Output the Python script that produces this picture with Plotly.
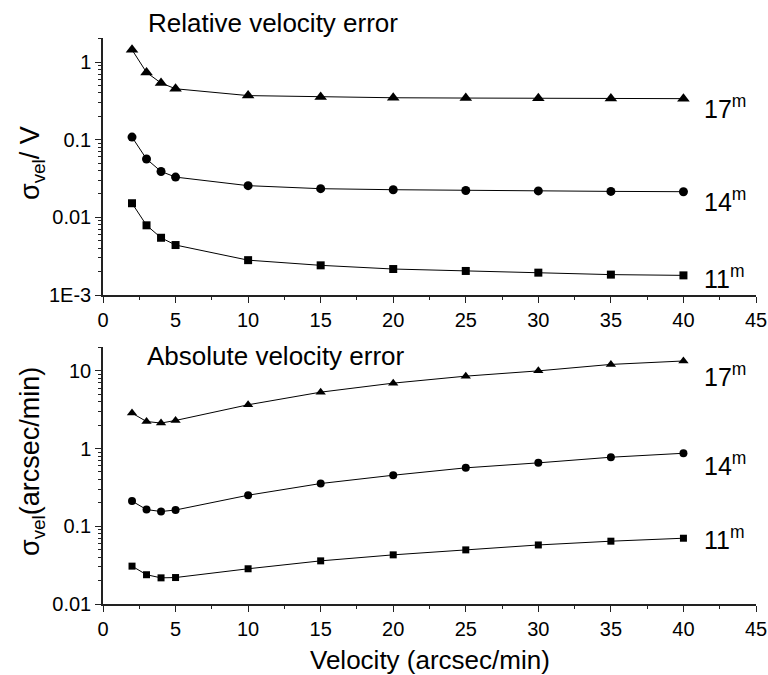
import numpy as np
import plotly.graph_objects as go

velocity = [2, 3, 4, 5, 10, 15, 20, 25, 30, 35, 40]

rel_17 = [1.44, 0.735, 0.537, 0.453, 0.370, 0.355, 0.347, 0.344, 0.341, 0.340, 0.338]
rel_14 = [0.108, 0.0564, 0.039, 0.033, 0.0256, 0.0234, 0.0227, 0.0222, 0.0219, 0.0216, 0.0214]
rel_11 = [0.0152, 0.0079, 0.00546, 0.0044, 0.00281, 0.00241, 0.00216, 0.00204, 0.00194, 0.00183, 0.00179]

abs_17 = [2.86, 2.23, 2.13, 2.30, 3.66, 5.32, 6.95, 8.55, 10.0, 12.1, 13.4]
abs_14 = [0.211, 0.164, 0.155, 0.162, 0.251, 0.355, 0.454, 0.565, 0.655, 0.774, 0.87]
abs_11 = [0.0307, 0.0238, 0.0217, 0.0219, 0.0284, 0.0359, 0.0429, 0.0497, 0.0575, 0.0643, 0.0702]

mag_labels = ["17", "14", "11"]
top_ticks = [0.001, 0.01, 0.1, 1]
top_ticktext = ["1E-3", "0.01", "0.1", "1"]
bot_ticks = [0.01, 0.1, 1, 10]
bot_ticktext = ["0.01", "0.1", "1", "10"]
x_ticks = [0, 5, 10, 15, 20, 25, 30, 35, 40, 45]

FONT = "Liberation Sans, Arial, sans-serif"
W, H = 768, 675
ML, MR, MT, MB = 103, 12, 38, 71
ph = H - MT - MB
top_dom = [(H - MB - 295) / ph, 1.0]
bot_dom = [0.0, (H - MB - 347) / ph]


def log_minor(decades):
    return [m * d for d in decades for m in range(2, 10)]


top_minor = log_minor([0.001, 0.01, 0.1, 1])
bot_minor = log_minor([0.01, 0.1, 1, 10])

fig = go.Figure()

symbols = ["triangle-up", "circle", "square"]
top_sizes = [11, 9, 8]
bot_sizes = [9, 8, 7]

for ser, sym, sz in zip([rel_17, rel_14, rel_11], symbols, top_sizes):
    fig.add_trace(go.Scatter(x=velocity, y=ser, mode="lines+markers",
                             line=dict(color="black", width=1),
                             marker=dict(symbol=sym, size=sz, color="black"),
                             xaxis="x", yaxis="y", showlegend=False))
for ser, sym, sz in zip([abs_17, abs_14, abs_11], symbols, bot_sizes):
    fig.add_trace(go.Scatter(x=velocity, y=ser, mode="lines+markers",
                             line=dict(color="black", width=1),
                             marker=dict(symbol=sym, size=sz, color="black"),
                             xaxis="x2", yaxis="y2", showlegend=False))

axis_common = dict(showline=True, linecolor="#222", linewidth=1.5, ticks="outside",
                   ticklen=6, tickwidth=1.2, tickcolor="#222", showgrid=False, zeroline=False,
                   automargin=False,
                   tickfont=dict(family=FONT, size=20, color="black"))
minor_common = dict(ticks="outside", ticklen=3, tickwidth=1, tickcolor="#222", showgrid=False)

fig.update_layout(
    width=W, height=H, autosize=False,
    margin=dict(l=ML, r=MR, t=MT, b=MB, autoexpand=False),
    paper_bgcolor="white", plot_bgcolor="white",
    font=dict(family=FONT, color="black"),
    xaxis=dict(domain=[0, 1], anchor="y", range=[0, 45], tickvals=x_ticks,
               minor=dict(dtick=2.5, tick0=0, **minor_common),
               **axis_common),
    yaxis=dict(domain=top_dom, anchor="x", type="log", range=[-3, 0.31],
               tickvals=top_ticks, ticktext=top_ticktext,
               minor=dict(tickmode="array", tickvals=top_minor, **minor_common),
               **axis_common),
    xaxis2=dict(domain=[0, 1], anchor="y2", range=[0, 45], tickvals=x_ticks,
                minor=dict(dtick=2.5, tick0=0, **minor_common),
                **axis_common),
    yaxis2=dict(domain=bot_dom, anchor="x2", type="log", range=[-2, 1.307],
                tickvals=bot_ticks, ticktext=bot_ticktext,
                minor=dict(tickmode="array", tickvals=bot_minor, **minor_common),
                **axis_common),
)


def px_x(p):
    return (p - ML) / (W - ML - MR)


def px_y(p):
    return (H - MB - p) / ph


ann = []
ann.append(dict(text="Relative velocity error", x=px_x(146), y=px_y(23), xref="paper", yref="paper",
                xanchor="left", yanchor="middle", showarrow=False, font=dict(size=26, family=FONT)))
ann.append(dict(text="Absolute velocity error", x=px_x(145), y=px_y(356), xref="paper", yref="paper",
                xanchor="left", yanchor="middle", showarrow=False, font=dict(size=26, family=FONT)))
ann.append(dict(text="Velocity (arcsec/min)", x=0.5, y=px_y(660), xref="paper", yref="paper",
                xanchor="center", yanchor="middle", showarrow=False, font=dict(size=26, family=FONT)))
ann.append(dict(text="σ<sub>vel</sub>/ V", x=px_x(32), y=px_y(163), xref="paper", yref="paper",
                xanchor="center", yanchor="middle", textangle=-90, showarrow=False,
                font=dict(size=27, family=FONT)))
ann.append(dict(text="σ<sub>vel</sub>(arcsec/min)", x=px_x(32), y=px_y(462), xref="paper", yref="paper",
                xanchor="center", yanchor="middle", textangle=-90, showarrow=False,
                font=dict(size=27, family=FONT)))

top_shift = [-8, -8, -2]
bot_shift = [-14, -11, 0]
for lab, ser, s in zip(mag_labels, [rel_17, rel_14, rel_11], top_shift):
    ann.append(dict(text=lab + "<sup>m</sup>", x=velocity[-1], y=np.log10(ser[-1]), xref="x", yref="y",
                    xanchor="left", yanchor="middle", xshift=19, yshift=s, showarrow=False,
                    font=dict(size=25, family=FONT)))
for lab, ser, s in zip(mag_labels, [abs_17, abs_14, abs_11], bot_shift):
    ann.append(dict(text=lab + "<sup>m</sup>", x=velocity[-1], y=np.log10(ser[-1]), xref="x2", yref="y2",
                    xanchor="left", yanchor="middle", xshift=19, yshift=s, showarrow=False,
                    font=dict(size=25, family=FONT)))

fig.update_layout(annotations=ann)
fig.write_html("out.html")
